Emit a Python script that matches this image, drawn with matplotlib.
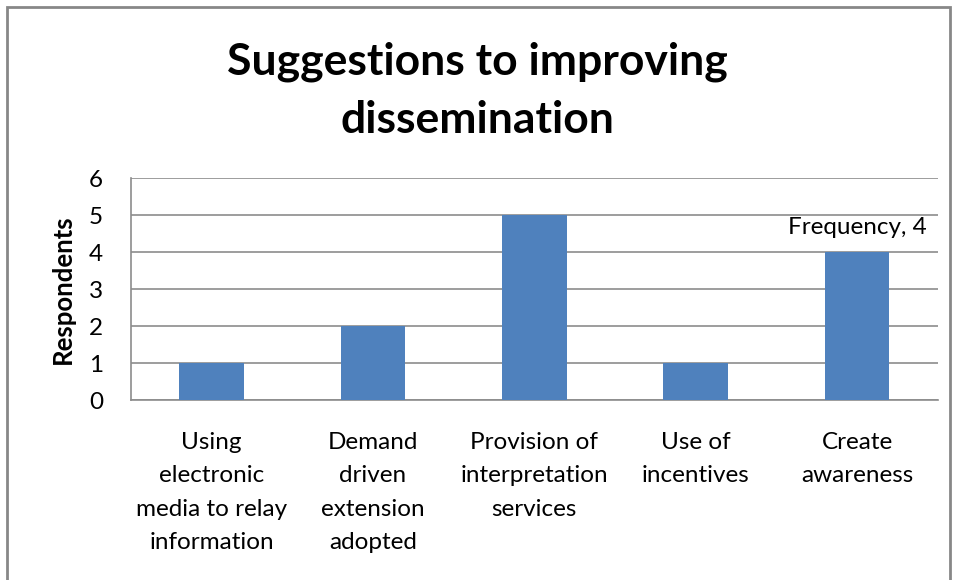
import matplotlib.pyplot as plt
from matplotlib.patches import Rectangle

categories = [
    "Using\nelectronic\nmedia to relay\ninformation",
    "Demand\ndriven\nextension\nadopted",
    "Provision of\ninterpretation\nservices",
    "Use of\nincentives",
    "Create\nawareness",
]
frequency = [1, 2, 5, 1, 4]
yticks = [0, 1, 2, 3, 4, 5, 6]

plt.rcParams['font.family'] = ['Lato', 'DejaVu Sans']

fig = plt.figure(figsize=(9.55, 5.8), dpi=100)
ax = fig.add_axes([0.137, 0.310, 0.845, 0.383])

# chart border, Excel style
fig.patches.append(Rectangle((7 / 955, -0.05), 943 / 955, 1.05 - 7 / 580,
                             transform=fig.transFigure, fill=False,
                             edgecolor='#878787', linewidth=2))

x = range(len(categories))
ax.bar(x, frequency, width=0.4, color='#4F81BD', zorder=3)
ax.set_xlim(-0.5, len(categories) - 0.5)
ax.set_ylim(0, 6)
ax.set_yticks(yticks)
ax.tick_params(axis='y', labelsize=17.5, length=0, pad=20)
ax.set_xticks(list(x))
ax.set_xticklabels(categories, fontsize=17.5, linespacing=1.72, va='top')
ax.tick_params(axis='x', length=0, pad=23)
ax.grid(axis='y', color='#8C8C8C', linewidth=1.2, zorder=0)
for s in ['top', 'right']:
    ax.spines[s].set_visible(False)
for s in ['left', 'bottom']:
    ax.spines[s].set_color('#8C8C8C')
    ax.spines[s].set_linewidth(1.2)

ax.set_ylabel('Respondents', fontsize=18.5, fontweight='bold', labelpad=10)

# data label on last bar
ax.annotate(f"Frequency, {frequency[4]}", (4, frequency[4]), xytext=(0, 10),
            textcoords='offset points', ha='center', va='bottom', fontsize=17.5)

fig.text(0.5, 0.843, "Suggestions to improving\ndissemination", ha='center',
         va='center', fontsize=32, fontweight='bold', linespacing=1.55)

fig.savefig('out.png', dpi=100)
